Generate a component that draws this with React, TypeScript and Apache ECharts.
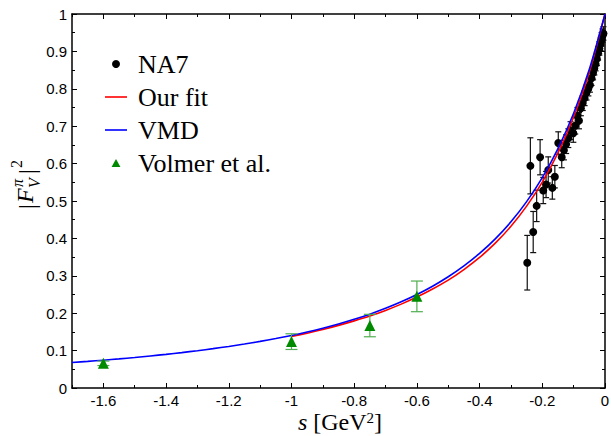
import React, { useEffect, useRef } from "react";
import * as echarts from "echarts";

// VMD curve
const vmdS = [-1.7, -1.65, -1.6, -1.55, -1.5, -1.45, -1.4, -1.35, -1.3, -1.25, -1.2, -1.15, -1.1, -1.05, -1.0, -0.95, -0.9, -0.85, -0.8, -0.75, -0.7, -0.65, -0.6, -0.55, -0.5, -0.45, -0.4, -0.35, -0.3, -0.25, -0.2, -0.15, -0.1, -0.05, 0];
const vmdY = [0.0681, 0.0711, 0.0744, 0.0779, 0.0816, 0.0857, 0.09, 0.0947, 0.0997, 0.1052, 0.1111, 0.1176, 0.1246, 0.1322, 0.1406, 0.1498, 0.16, 0.1712, 0.1837, 0.1975, 0.213, 0.2304, 0.25, 0.2722, 0.2975, 0.3265, 0.36, 0.3989, 0.4444, 0.4983, 0.5625, 0.64, 0.7347, 0.8521, 1.0];

// Our fit curve
const fitS = [-1.0, -0.95, -0.9, -0.85, -0.8, -0.75, -0.7, -0.65, -0.6, -0.55, -0.5, -0.45, -0.4, -0.35, -0.3, -0.25, -0.2, -0.15, -0.1, -0.05, 0];
const fitY = [0.1376, 0.1466, 0.1565, 0.1674, 0.1795, 0.1925, 0.2075, 0.2243, 0.2432, 0.2647, 0.2885, 0.3167, 0.349, 0.3872, 0.4324, 0.4863, 0.5505, 0.6285, 0.7245, 0.845, 1.0];

// NA7 data
const na7S = [-0.248, -0.238, -0.229, -0.218, -0.207, -0.197, -0.188, -0.181, -0.168, -0.16, -0.149, -0.138, -0.131, -0.124, -0.117, -0.11, -0.101, -0.095, -0.088, -0.083, -0.077, -0.071, -0.065, -0.059, -0.053, -0.048, -0.043, -0.038, -0.034, -0.03, -0.026, -0.022, -0.018, -0.014, -0.011, -0.008, -0.005];
const na7Y = [0.335, 0.594, 0.417, 0.487, 0.617, 0.528, 0.544, 0.583, 0.535, 0.565, 0.655, 0.617, 0.636, 0.652, 0.668, 0.688, 0.681, 0.701, 0.728, 0.715, 0.748, 0.762, 0.775, 0.79, 0.801, 0.81, 0.828, 0.843, 0.855, 0.866, 0.88, 0.895, 0.908, 0.92, 0.932, 0.942, 0.948];
const na7Err = [0.073, 0.075, 0.055, 0.042, 0.047, 0.035, 0.035, 0.035, 0.03, 0.03, 0.03, 0.028, 0.026, 0.025, 0.025, 0.024, 0.024, 0.022, 0.022, 0.022, 0.02, 0.02, 0.02, 0.02, 0.02, 0.019, 0.019, 0.019, 0.018, 0.018, 0.018, 0.018, 0.018, 0.018, 0.018, 0.018, 0.018];

// Volmer et al. data
const volS = [-1.6, -1.0, -0.75, -0.6];
const volY = [0.066, 0.124, 0.167, 0.245];
const volErr = [0.006, 0.021, 0.03, 0.041];

// ticks
const xMajor = [-1.6, -1.4, -1.2, -1.0, -0.8, -0.6, -0.4, -0.2, 0];
const xMinor = [-1.7, -1.5, -1.3, -1.1, -0.9, -0.7, -0.5, -0.3, -0.1];

const SERIF = "Liberation Serif";
const SANS = "Liberation Sans";

function errSeries(name: string, s: number[], y: number[], e: number[], color: string, cap: number, z: number) {
  return {
    type: "custom",
    name,
    xAxisIndex: 0,
    yAxisIndex: 0,
    z,
    silent: true,
    data: s.map((v, i) => [v, y[i], e[i]]),
    encode: { x: 0, y: 1 },
    renderItem: (_params: any, api: any) => {
      const x = api.value(0);
      const yv = api.value(1);
      const ev = api.value(2);
      const t = api.coord([x, yv + ev]);
      const b = api.coord([x, yv - ev]);
      const st = { stroke: color, lineWidth: 1.2, fill: "none" };
      return {
        type: "group",
        children: [
          { type: "line", shape: { x1: t[0], y1: t[1], x2: b[0], y2: b[1] }, style: st },
          { type: "line", shape: { x1: t[0] - cap, y1: t[1], x2: t[0] + cap, y2: t[1] }, style: st },
          { type: "line", shape: { x1: b[0] - cap, y1: b[1], x2: b[0] + cap, y2: b[1] }, style: st },
        ],
      };
    },
  };
}

function xAxisDef(position: "bottom" | "top", ticks: number[], len: number, showLine: boolean, showLabel: boolean) {
  return {
    type: "value",
    min: -1.7,
    max: 0,
    position,
    axisLine: { show: showLine, onZero: false, lineStyle: { color: "#000", width: 1.5 } },
    axisTick: { show: true, inside: true, length: len, customValues: ticks, lineStyle: { color: "#000", width: 1 } },
    axisLabel: showLabel
      ? { show: true, customValues: ticks, color: "#000", fontSize: 15, fontFamily: SANS, margin: 5 }
      : { show: false },
    splitLine: { show: false },
  };
}

function yAxisDef(position: "left" | "right", showLabel: boolean) {
  return {
    type: "value",
    min: 0,
    max: 1,
    interval: 0.1,
    position,
    axisLine: { show: true, onZero: false, lineStyle: { color: "#000", width: 1.5 } },
    axisTick: { show: true, inside: true, length: 5, lineStyle: { color: "#000", width: 1 } },
    minorTick: { show: true, splitNumber: 2, length: 3, lineStyle: { color: "#000", width: 1 } },
    axisLabel: showLabel ? { show: true, color: "#000", fontSize: 15, fontFamily: SANS, margin: 5 } : { show: false },
    splitLine: { show: false },
    minorSplitLine: { show: false },
  };
}

const legendText = {
  fontFamily: SERIF,
  fontSize: 26,
  lineHeight: 26,
  color: "#000",
  padding: [0, 0, 0, 6],
};

export default function App() {
  const ref = useRef<HTMLDivElement>(null);

  useEffect(() => {
    if (!ref.current) return;
    const chart = echarts.init(ref.current, null, { renderer: "svg" });

    const yLabelChildren = [
      { type: "text", x: 0, y: -6, style: { text: "|", font: `24px ${SERIF}`, fill: "#000", verticalAlign: "middle" } },
      { type: "text", x: 6, y: -8, style: { text: "F", font: `italic 24px ${SERIF}`, fill: "#000", verticalAlign: "middle" } },
      { type: "text", x: 22, y: -16, style: { text: "π", font: `italic 16px ${SERIF}`, fill: "#000", verticalAlign: "middle" } },
      { type: "text", x: 21, y: 1, style: { text: "V", font: `italic 16px ${SERIF}`, fill: "#000", verticalAlign: "middle" } },
      { type: "text", x: 35, y: -6, style: { text: "|", font: `24px ${SERIF}`, fill: "#000", verticalAlign: "middle" } },
      { type: "text", x: 41, y: -17, style: { text: "2", font: `16px ${SERIF}`, fill: "#000", verticalAlign: "middle" } },
    ];

    chart.setOption({
      animation: false,
      backgroundColor: "#fff",
      textStyle: { fontFamily: SERIF },
      grid: { left: 72, right: 6, top: 14, bottom: 48, containLabel: false, outerBoundsMode: "none" },
      legend: {
        orient: "vertical",
        left: 105,
        top: 51,
        padding: 0,
        itemGap: 7,
        itemWidth: 22,
        itemHeight: 8,
        textStyle: legendText,
        data: [
          { name: "NA7", icon: "circle" },
          { name: "Our fit", icon: "path://M0,0H22V1.6H0Z" },
          { name: "VMD", icon: "path://M0,0H22V1.6H0Z" },
          { name: "Volmer et al.", icon: "path://M5,0L10,9L0,9Z" },
        ],
      },
      xAxis: [
        xAxisDef("bottom", xMajor, 5, true, true),
        xAxisDef("bottom", xMinor, 3, false, false),
        xAxisDef("top", xMajor, 5, true, false),
        xAxisDef("top", xMinor, 3, false, false),
      ],
      yAxis: [yAxisDef("left", true), yAxisDef("right", false)],
      graphic: [
        {
          type: "group",
          x: 33,
          y: 209,
          rotation: Math.PI / 2,
          children: yLabelChildren,
        },
        {
          type: "text",
          x: 340,
          y: 422,
          style: {
            text: "{i|s} [GeV{sup|2}]",
            align: "center",
            verticalAlign: "middle",
            font: `24px ${SERIF}`,
            fill: "#000",
            rich: {
              i: { fontFamily: SERIF, fontSize: 24, lineHeight: 20, fontStyle: "italic", fill: "#000" },
              sup: { fontFamily: SERIF, fontSize: 15, lineHeight: 20, verticalAlign: "top", fill: "#000" },
            },
          },
        },
      ],
      series: [
        errSeries("na7err", na7S, na7Y, na7Err, "#111", 3, 2),
        {
          name: "NA7",
          type: "scatter",
          xAxisIndex: 0,
          yAxisIndex: 0,
          symbol: "circle",
          symbolSize: 8,
          itemStyle: { color: "#000", opacity: 1 },
          data: na7S.map((v, i) => [v, na7Y[i]]),
          z: 3,
        },
        {
          name: "Our fit",
          type: "line",
          xAxisIndex: 0,
          yAxisIndex: 0,
          symbol: "none",
          smooth: 0.3,
          lineStyle: { color: "#ff0000", width: 1.6 },
          itemStyle: { color: "#ff0000" },
          data: fitS.map((v, i) => [v, fitY[i]]),
          z: 4,
        },
        {
          name: "VMD",
          type: "line",
          xAxisIndex: 0,
          yAxisIndex: 0,
          symbol: "none",
          smooth: 0.3,
          lineStyle: { color: "#0000ff", width: 1.6 },
          itemStyle: { color: "#0000ff" },
          data: vmdS.map((v, i) => [v, vmdY[i]]),
          z: 4,
        },
        errSeries("volerr", volS, volY, volErr, "#4fae4f", 6, 5),
        {
          name: "Volmer et al.",
          type: "scatter",
          xAxisIndex: 0,
          yAxisIndex: 0,
          symbol: "triangle",
          symbolSize: 11,
          itemStyle: { color: "#008a00", opacity: 1 },
          data: volS.map((v, i) => [v, volY[i]]),
          z: 6,
        },
      ],
    });

    return () => chart.dispose();
  }, []);

  return <div ref={ref} style={{ position: "fixed", left: 0, top: 0, width: 611, height: 436 }} />;
}
